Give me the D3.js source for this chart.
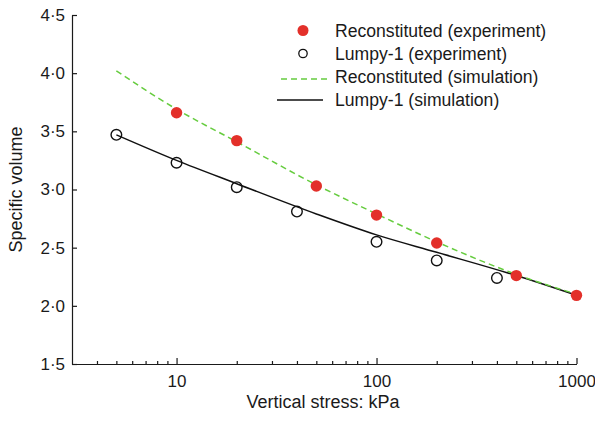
<!DOCTYPE html>
<html>
<head>
<meta charset="utf-8">
<script src="https://cdn.jsdelivr.net/npm/d3@7"></script>
<style>
  body { margin: 0; background: #fff; }
  svg text { font-family: "Liberation Sans", Arial, sans-serif; fill: #1a1a1a; }
</style>
</head>
<body>
<svg id="chart" width="595" height="422"></svg>
<script>
// experiment data
const reconStress = [10, 20, 50, 100, 200, 500, 1000];
const reconVolume = [3.66, 3.42, 3.03, 2.78, 2.54, 2.26, 2.09];

const lumpyStress = [5, 10, 20, 40, 100, 200, 400];
const lumpyVolume = [3.47, 3.23, 3.02, 2.81, 2.55, 2.39, 2.24];

// simulation curves
const simStress = [5, 10, 20, 50, 100, 200, 500, 1000];
const reconSim = [4.02, 3.69, 3.41, 3.04, 2.79, 2.55, 2.27, 2.10];
const lumpySim = [3.47, 3.25, 3.05, 2.79, 2.61, 2.46, 2.26, 2.09];

const xMajor = [10, 100, 1000];
const xMinor = [4, 5, 6, 7, 8, 9, 20, 30, 40, 50, 60, 70, 80, 90,
  200, 300, 400, 500, 600, 700, 800, 900];
const yTicks = [1.5, 2.0, 2.5, 3.0, 3.5, 4.0, 4.5];

const legendLabels = ['Reconstituted (experiment)', 'Lumpy-1 (experiment)',
  'Reconstituted (simulation)', 'Lumpy-1 (simulation)'];

const red = '#e3302a', green = '#66cc3f';

const svg = d3.select('#chart');

const x = d3.scaleLog().domain([3, 1000]).range([72, 576.5]);
const y = d3.scaleLinear().domain([1.5, 4.5]).range([364, 15]);

// axes, ticks point inwards
svg.append('g').attr('transform', 'translate(0,364)')
  .call(d3.axisBottom(x).tickValues(xMajor).tickSizeInner(-6).tickSizeOuter(0)
    .tickPadding(11).tickFormat(d3.format('d')));
svg.append('g').attr('transform', 'translate(0,364)')
  .call(d3.axisBottom(x).tickValues(xMinor).tickSizeInner(-3).tickSizeOuter(0)
    .tickFormat(''))
  .call(g => g.select('.domain').remove());

svg.append('g').attr('transform', 'translate(72,0)')
  .call(d3.axisLeft(y).tickValues(yTicks).tickSizeInner(-5).tickSizeOuter(0)
    .tickPadding(7).tickFormat(d => d.toFixed(1).replace('.', '\u00b7')));

svg.selectAll('.domain, .tick line').attr('stroke', '#1a1a1a').attr('stroke-width', 1.2);
svg.selectAll('.tick text').attr('font-size', 17)
  .style('font-family', '"Liberation Sans", Arial, sans-serif').attr('fill', '#1a1a1a');

// axis titles
svg.append('text').attr('x', 323).attr('y', 408).attr('text-anchor', 'middle')
  .attr('font-size', 18).text('Vertical stress: kPa');
svg.append('text').attr('transform', 'translate(22,189.5) rotate(-90)')
  .attr('text-anchor', 'middle').attr('font-size', 18).text('Specific volume');

// simulation lines
const line = d3.line().x(d => x(d[0])).y(d => y(d[1])).curve(d3.curveMonotoneX);
svg.append('path').datum(d3.zip(simStress, lumpySim))
  .attr('d', line).attr('fill', 'none').attr('stroke', '#111').attr('stroke-width', 1.5);
svg.append('path').datum(d3.zip(simStress, reconSim))
  .attr('d', line).attr('fill', 'none').attr('stroke', green)
  .attr('stroke-width', 1.5).attr('stroke-dasharray', '6,4');

// experiment points
svg.append('g').selectAll('circle').data(d3.zip(lumpyStress, lumpyVolume)).join('circle')
  .attr('cx', d => x(d[0])).attr('cy', d => y(d[1])).attr('r', 5.3)
  .attr('fill', 'none').attr('stroke', '#111').attr('stroke-width', 1.4);
svg.append('g').selectAll('circle').data(d3.zip(reconStress, reconVolume)).join('circle')
  .attr('cx', d => x(d[0])).attr('cy', d => y(d[1])).attr('r', 5.7)
  .attr('fill', red);

// legend
const legend = svg.append('g');
const rowY = [30.5, 53.5, 77, 100];
legend.append('circle').attr('cx', 303).attr('cy', rowY[0]).attr('r', 5.5).attr('fill', red);
legend.append('circle').attr('cx', 303).attr('cy', rowY[1]).attr('r', 4.2)
  .attr('fill', 'none').attr('stroke', '#111').attr('stroke-width', 1.3);
legend.append('line').attr('x1', 281).attr('x2', 328).attr('y1', rowY[2] + 2).attr('y2', rowY[2] + 2)
  .attr('stroke', green).attr('stroke-width', 1.5).attr('stroke-dasharray', '6,4');
legend.append('line').attr('x1', 277).attr('x2', 323).attr('y1', rowY[3]).attr('y2', rowY[3])
  .attr('stroke', '#111').attr('stroke-width', 1.3);
legend.selectAll('text').data(legendLabels).join('text')
  .attr('x', 335).attr('y', (d, i) => rowY[i]).attr('dy', '0.36em')
  .attr('font-size', 17.6).text(d => d);
</script>
</body>
</html>
